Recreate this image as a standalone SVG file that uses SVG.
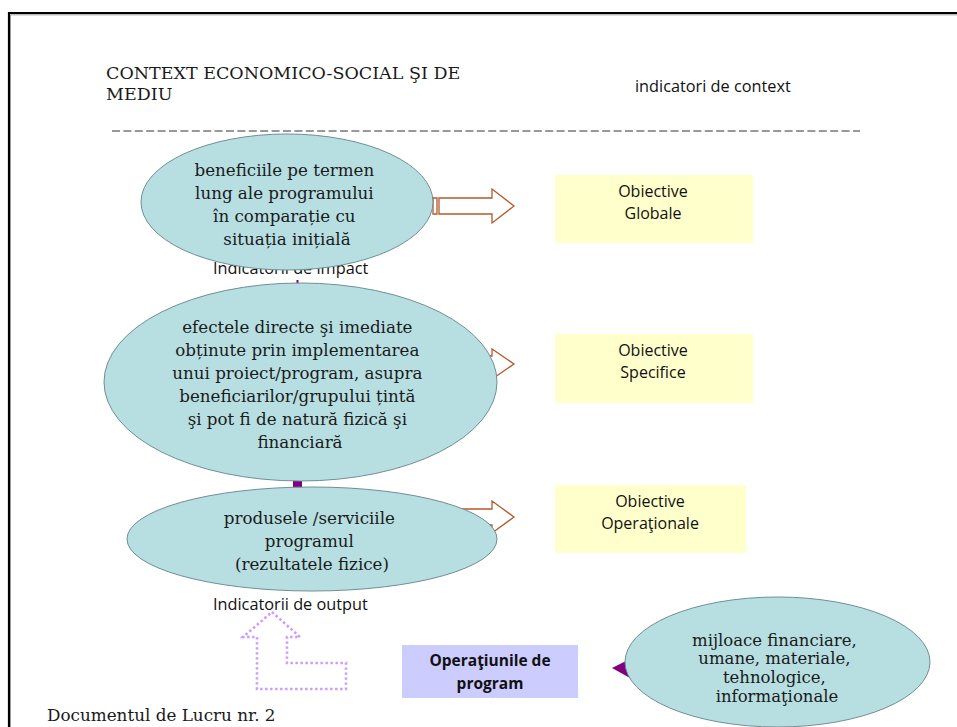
<svg xmlns="http://www.w3.org/2000/svg" width="957" height="727" viewBox="0 0 957 727">
<style>
.serif{font-family:"DejaVu Serif","Liberation Serif",serif;fill:#1a1a1a}
.sans{font-family:"Open Sans","Liberation Sans",sans-serif;fill:#111}
.ell{fill:#B7DFE2;stroke:#6f8f93;stroke-width:1}
.obj{fill:#FFFFCC}
.blk{fill:#fff;stroke:#B5582A;stroke-width:1.3}
</style>
<rect width="957" height="727" fill="#fff"/>
<path d="M9 727 V13 H957" fill="none" stroke="#000" stroke-width="2.2"/>
<path d="M10.5 727 V14.8 H957" fill="none" stroke="#999" stroke-width="1"/>

<text class="serif" font-size="17.5" x="106" y="79">CONTEXT ECONOMICO-SOCIAL ŞI DE</text>
<text class="serif" font-size="17.5" x="106" y="100">MEDIU</text>
<text class="sans" font-size="16.3" x="635" y="92">indicatori de context</text>
<line x1="112" y1="131" x2="860" y2="131" stroke="#333" stroke-width="1" stroke-dasharray="8,3.4"/>

<g id="connectors">
<line x1="297.5" y1="280" x2="297.5" y2="490" stroke="#800080" stroke-width="2"/>
<rect x="293" y="476" width="9" height="12" fill="#800080"/>
<path class="blk" d="M433 198 H437 V214 H433 Z M439 198 H492 V189 L514 206 L492 223 V214 H439 Z"/>
<path class="blk" d="M440 356 H492 V349 L514 364 L492 379 V372 H440 Z"/>
<path class="blk" d="M440 509 H492 V501 L514 517 L492 533 V525 H440 Z"/>
<polygon points="272,612 300,637 287,637 287,663 346,663 346,689 257,689 257,637 243,637" fill="none" stroke="#CC99FF" stroke-width="2.6" stroke-dasharray="2.4,2.6"/>
<polygon points="612,668 630,659 630,678" fill="#800080"/>
</g>

<text class="sans" font-size="16.3" x="213" y="274">Indicatorii de impact</text>

<g id="n-impact">
<ellipse class="ell" cx="287" cy="202" rx="146" ry="68"/>
<text class="serif" font-size="16.7" text-anchor="middle">
<tspan x="287" y="176">beneficiile pe termen</tspan>
<tspan x="287" y="199">lung ale programului</tspan>
<tspan x="287" y="222">în comparație cu</tspan>
<tspan x="287" y="245">situația inițială</tspan>
</text>
</g>

<g id="n-obj-globale">
<rect class="obj" x="555" y="175" width="198" height="68"/>
<text class="sans" font-size="16" text-anchor="middle"><tspan x="653" y="197">Obiective</tspan><tspan x="653" y="219">Globale</tspan></text>
</g>

<g id="n-rezultate">
<ellipse class="ell" cx="300.5" cy="382" rx="196.5" ry="99"/>
<text class="serif" font-size="16.7" text-anchor="middle">
<tspan x="300" y="333">efectele directe şi imediate</tspan>
<tspan x="300" y="356">obținute prin implementarea</tspan>
<tspan x="300" y="379">unui proiect/program, asupra</tspan>
<tspan x="300" y="402">beneficiarilor/grupului țintă</tspan>
<tspan x="300" y="425">şi pot fi de natură fizică şi</tspan>
<tspan x="300" y="448">financiară</tspan>
</text>
</g>

<g id="n-obj-specifice">
<rect class="obj" x="555" y="334" width="198" height="69"/>
<text class="sans" font-size="16" text-anchor="middle"><tspan x="653" y="356">Obiective</tspan><tspan x="653" y="378">Specifice</tspan></text>
</g>

<g id="n-output">
<ellipse class="ell" cx="312" cy="539" rx="185" ry="52"/>
<text class="serif" font-size="16.7" text-anchor="middle">
<tspan x="312" y="524">produsele /serviciile</tspan>
<tspan x="312" y="547">programul</tspan>
<tspan x="312" y="570">(rezultatele fizice)</tspan>
</text>
</g>

<g id="n-obj-operationale">
<rect class="obj" x="555" y="485" width="191" height="68"/>
<text class="sans" font-size="16" text-anchor="middle"><tspan x="650" y="507">Obiective</tspan><tspan x="650" y="529">Operaţionale</tspan></text>
</g>

<text class="sans" font-size="16.3" x="213" y="610">Indicatorii de output</text>

<g id="n-operatiuni">
<rect x="402" y="645" width="176" height="53" fill="#CCCCFF"/>
<text class="sans" font-size="15.5" font-weight="bold" text-anchor="middle"><tspan x="490" y="666">Operaţiunile de</tspan><tspan x="490" y="689">program</tspan></text>
</g>

<g id="n-mijloace">
<ellipse class="ell" cx="777.5" cy="662" rx="152.5" ry="65"/>
<text class="serif" font-size="16.5" text-anchor="middle">
<tspan x="777" y="646">mijloace financiare,</tspan>
<tspan x="777" y="664">umane, materiale,</tspan>
<tspan x="777" y="683">tehnologice,</tspan>
<tspan x="777" y="702">informaţionale</tspan>
</text>
</g>

<text class="serif" font-size="16.8" x="47" y="721">Documentul de Lucru nr. 2</text>
</svg>
